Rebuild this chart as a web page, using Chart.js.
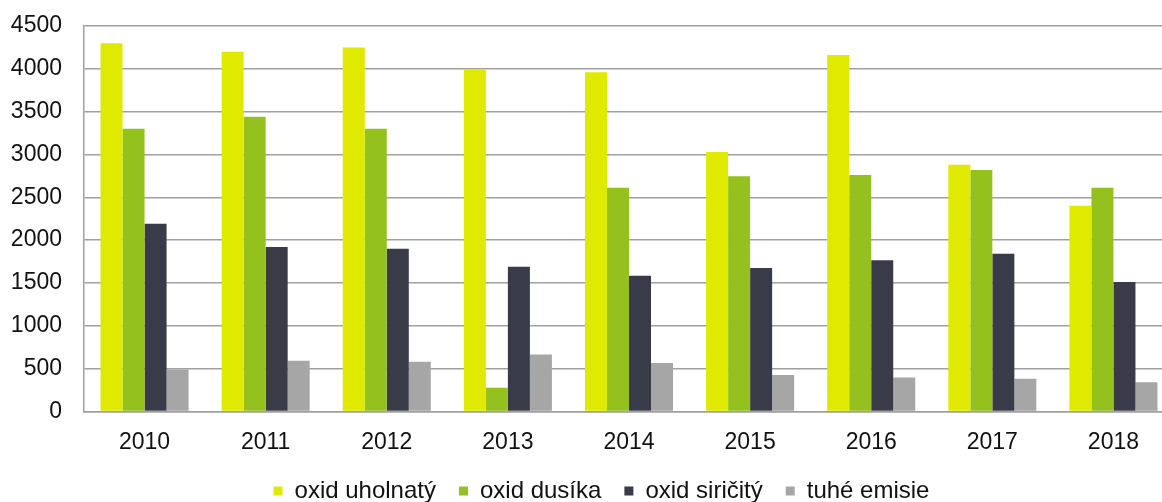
<!DOCTYPE html>
<html>
<head>
<meta charset="utf-8">
<script src="https://cdn.jsdelivr.net/npm/chart.js@4/dist/chart.umd.min.js"></script>
<style>
    html, body { margin: 0; padding: 0; background: #fff; overflow: hidden; }
    #wrap { width: 1162px; height: 502px; overflow: hidden; position: relative; }
    #chart { position: absolute; left: 0; top: 0; }
</style>
</head>
<body>
<div id="wrap"><canvas id="chart" width="1174" height="513"></canvas></div>
<script>
const years = ["2010", "2011", "2012", "2013", "2014", "2015", "2016", "2017", "2018"];
const seriesNames = ["oxid uholnatý", "oxid dusíka", "oxid siričitý", "tuhé emisie"];

// values (t)
const oxidUholnaty = [4300, 4200, 4250, 3990, 3960, 3030, 4160, 2880, 2400];
const oxidDusika = [3300, 3440, 3300, 275, 2610, 2745, 2760, 2820, 2610];
const oxidSiricity = [2190, 1920, 1900, 1690, 1585, 1675, 1765, 1840, 1510];
const tuheEmisie = [490, 590, 580, 665, 565, 425, 395, 380, 340];

const colors = ["#dfea00", "#95c11f", "#393b48", "#a6a6a6"];
const gridColor = "#a0a0a0";
const font = "'Liberation Sans', Arial, sans-serif";

function ds(i, data) {
    return {
        label: seriesNames[i],
        data: data,
        backgroundColor: colors[i],
        borderWidth: 0,
        categoryPercentage: 0.727,
        barPercentage: 1
    };
}

// legend sits a bit right of the canvas centre in the original
const legendShift = {
    id: "legendShift",
    afterLayout(chart) {
        chart.legend.left += 9;
        chart.legend.right += 9;
    }
};

const chartJSON = {
    type: "bar",
    data: {
        labels: years,
        datasets: [
            ds(0, oxidUholnaty),
            ds(1, oxidDusika),
            ds(2, oxidSiricity),
            ds(3, tuheEmisie)
        ]
    },
    options: {
        responsive: false,
        animation: false,
        layout: {
            padding: { left: 11, top: 26, right: 0, bottom: 0 }
        },
        plugins: {
            tooltip: { enabled: false },
            legend: {
                position: "bottom",
                labels: {
                    boxWidth: 9,
                    boxHeight: 9,
                    padding: 23,
                    color: "#111",
                    font: { family: font, size: 24 }
                }
            }
        },
        scales: {
            x: {
                afterFit: function (scale) {
                    scale.height = 44.6;
                },
                grid: { display: false, drawTicks: false },
                border: { display: true, color: gridColor, width: 1.5 },
                ticks: {
                    padding: 17,
                    color: "#111",
                    font: { family: font, size: 23 }
                }
            },
            y: {
                min: 0,
                max: 4500,
                afterFit: function (scale) {
                    scale.width = 73;
                },
                // invisible tick marks give the gap between labels and axis
                grid: { color: gridColor, lineWidth: 1.5, drawTicks: true, tickLength: 22, tickColor: "rgba(0,0,0,0)" },
                border: { display: true, color: gridColor, width: 1.5 },
                ticks: {
                    stepSize: 500,
                    padding: 0,
                    color: "#111",
                    font: { family: font, size: 23 },
                    callback: function (v) {
                        return String(v);
                    }
                }
            }
        }
    },
    plugins: [legendShift]
};

const ctx = document.getElementById("chart");
window.emisie = new Chart(ctx, chartJSON);
</script>
</body>
</html>
